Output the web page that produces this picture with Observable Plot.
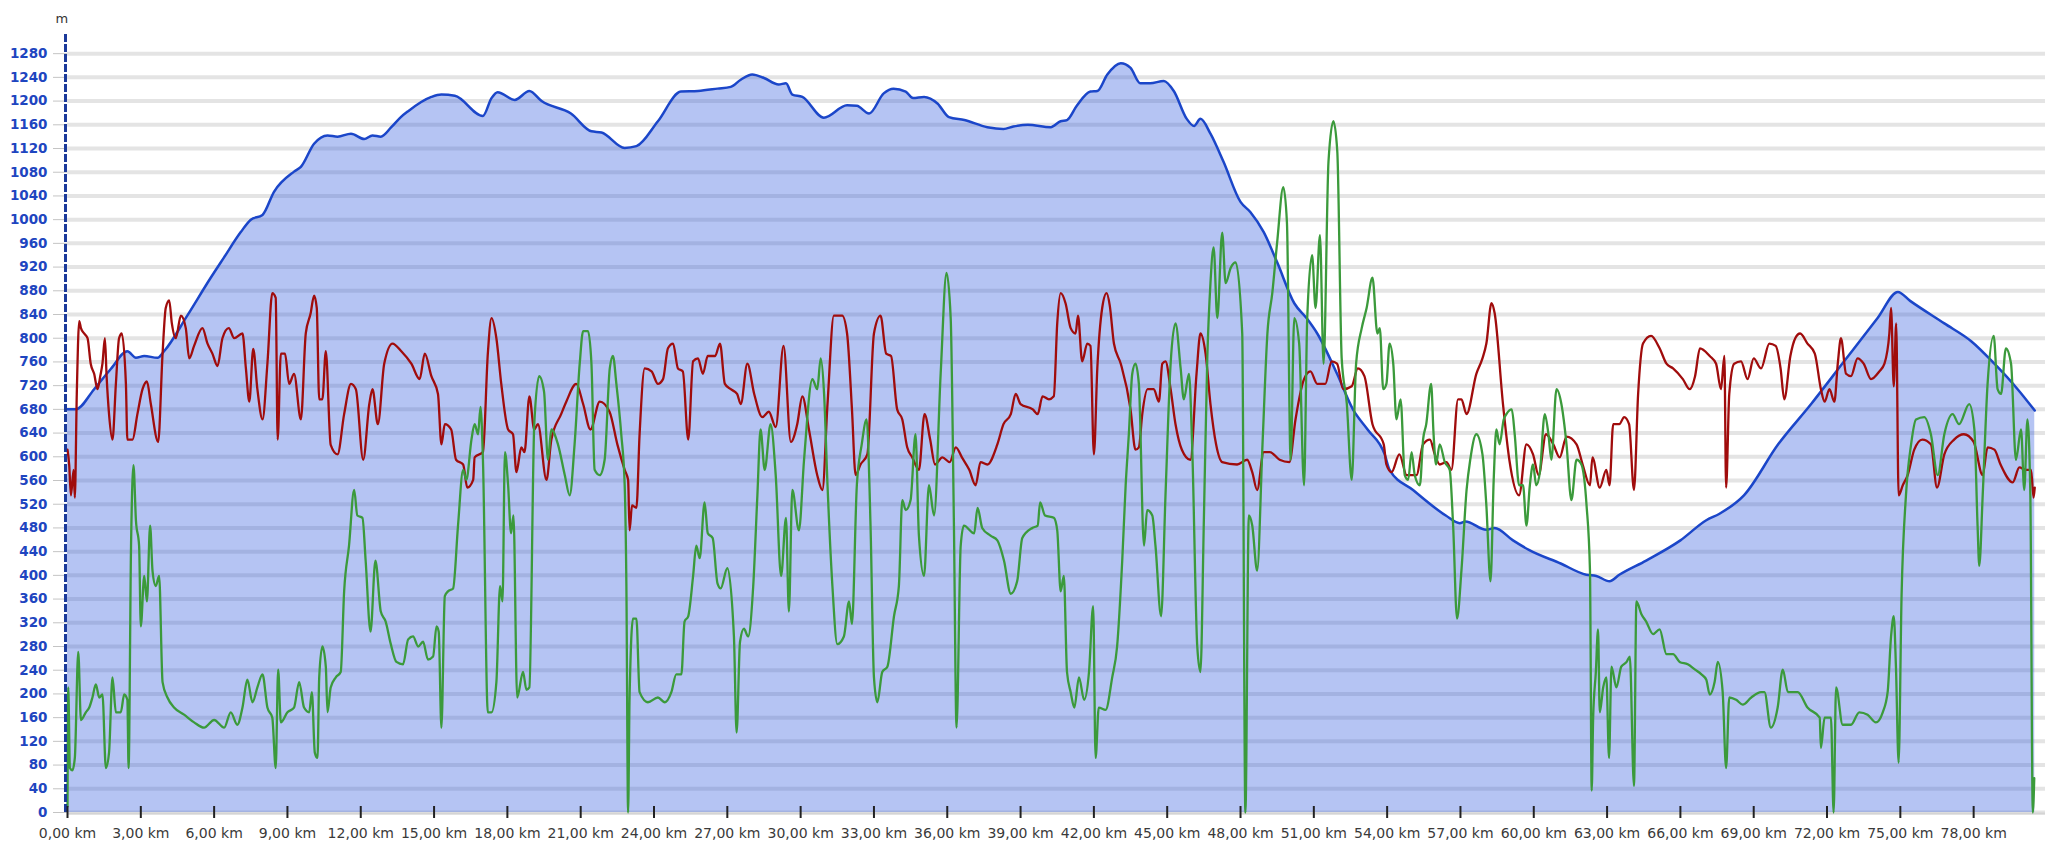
<!DOCTYPE html>
<html>
<head>
<meta charset="utf-8">
<script src="https://cdn.jsdelivr.net/npm/d3@7"></script>
<script src="https://cdn.jsdelivr.net/npm/@observablehq/plot@0.6"></script>
<style>
  html, body { margin: 0; padding: 0; background: #ffffff; }
  #chart { width: 2047px; height: 848px; }
</style>
</head>
<body>
<div id="chart"></div>
<script>
// ---- Data ----
const xTicks = [0, 3, 6, 9, 12, 15, 18, 21, 24, 27, 30, 33, 36, 39, 42, 45, 48, 51, 54, 57, 60, 63, 66, 69, 72, 75, 78];
const yTicks = [0, 40, 80, 120, 160, 200, 240, 280, 320, 360, 400, 440, 480, 520, 560, 600, 640, 680, 720, 760, 800, 840, 880, 920, 960, 1000, 1040, 1080, 1120, 1160, 1200, 1240, 1280];

const elevKm = [0,0.34,1.09,1.77,2.45,2.8,3.14,3.68,3.95,4.9,5.86,6.4,7.09,7.5,7.98,8.45,9.27,9.55,10.09,10.64,11.05,11.6,12.14,12.48,12.82,13.25,13.64,13.94,14.89,15.3,15.85,17.0,17.35,17.6,18.3,18.9,19.4,20.6,21.44,21.85,22.8,23.28,24.16,25.1,25.8,26.6,27.14,27.55,28.02,28.5,29.1,29.4,29.66,30.07,30.95,31.9,32.3,32.8,33.4,33.8,34.3,34.6,35.05,35.6,36.07,36.7,37.64,38.3,38.7,39.3,40.23,40.64,40.9,41.3,41.86,42.14,42.55,43.1,43.5,43.9,44.3,44.86,45.27,45.8,46.1,46.36,46.77,47.3,48.0,48.4,48.95,49.5,50.2,50.7,51.14,51.95,52.6,53.2,53.9,54.1,55.06,56.4,56.97,57.2,58.06,58.4,59.15,59.8,61.1,62.15,62.56,63.1,63.5,64.6,66.0,67.06,67.6,68.6,70.0,71.35,72.7,74.07,74.9,75.4,76.8,77.9,78.85,79.8,80.5];
const elevM = [680,680,714,748,778,767,770,767,778,838,902,936,979,1000,1008,1047,1081,1089,1128,1142,1140,1145,1136,1142,1140,1156,1173,1183,1207,1211,1209,1175,1205,1215,1202,1217,1200,1179,1149,1147,1121,1124,1166,1216,1217,1221,1224,1236,1245,1239,1228,1230,1211,1207,1172,1193,1192,1179,1213,1221,1216,1205,1207,1196,1173,1168,1156,1153,1157,1160,1156,1166,1168,1192,1216,1217,1245,1264,1256,1230,1230,1234,1217,1170,1158,1170,1145,1098,1030,1013,979,928,859,834,808,740,680,646,604,578,544,501,488,491,477,480,459,443,420,401,399,390,401,425,459,493,504,535,621,689,761,834,878,863,825,795,757,714,678];

const redKm = [0,0.07,0.14,0.25,0.3,0.38,0.48,0.55,0.68,0.82,0.95,1.09,1.23,1.34,1.43,1.53,1.6,1.7,1.84,1.98,2.11,2.22,2.39,2.45,2.66,2.86,3.07,3.25,3.41,3.71,3.89,4.02,4.16,4.27,4.43,4.64,4.84,4.98,5.18,5.52,5.73,5.93,6.14,6.34,6.6,6.82,7.16,7.3,7.44,7.6,7.77,7.98,8.18,8.38,8.52,8.6,8.73,8.9,9.07,9.27,9.55,9.75,9.95,10.09,10.2,10.3,10.43,10.57,10.77,11.05,11.32,11.6,11.8,12.1,12.35,12.48,12.7,12.96,13.3,
13.66,14.07,14.41,14.62,14.89,15.16,15.3,15.44,15.7,15.9,16.19,16.36,16.6,16.66,17.0,17.2,17.35,17.55,17.75,18.03,18.23,18.37,18.57,18.7,18.9,19.1,19.25,19.6,19.8,20.2,20.41,20.82,21.1,21.4,21.78,22.18,22.5,22.8,22.94,23.0,23.1,23.28,23.41,23.62,23.9,24.16,24.37,24.57,24.78,24.98,25.18,25.4,25.6,25.8,26.0,26.2,26.5,26.7,26.9,
27.14,27.4,27.55,27.82,28.1,28.43,28.7,28.98,29.3,29.6,29.86,30.07,30.34,30.68,30.89,31.1,31.36,31.7,31.9,32.1,32.25,32.45,32.73,33.0,33.27,33.5,33.7,33.95,34.16,34.36,34.57,34.84,35.07,35.3,35.5,35.8,36.1,36.35,36.6,36.9,37.16,37.36,37.64,38.05,38.3,38.6,38.8,39.0,39.5,39.7,39.9,40.16,40.36,
40.5,40.64,40.84,41.05,41.25,41.35,41.52,41.73,41.86,42.0,42.14,42.34,42.52,42.65,42.82,43.1,43.5,43.7,43.84,43.98,44.2,44.45,44.66,44.8,44.93,45.14,45.34,45.6,45.95,46.2,46.36,46.57,46.77,47.0,47.25,47.86,48.27,48.48,48.68,48.95,49.2,49.6,50.0,50.25,50.6,50.86,51.14,51.47,51.73,51.95,52.2,52.55,52.8,53.07,53.4,53.86,
53.97,54.18,54.5,54.8,55.2,55.47,55.75,55.95,56.15,56.43,56.63,56.9,57.04,57.25,57.65,57.9,58.06,58.27,58.4,58.74,59.0,59.4,59.7,59.97,60.2,60.5,60.8,61.06,61.34,61.75,62.0,62.3,62.4,62.7,62.97,63.1,63.25,63.5,63.7,63.9,64.1,64.27,64.47,64.8,65.15,65.43,65.7,66.1,66.38,66.6,66.8,67.2,
67.46,67.66,67.8,67.87,68.0,68.2,68.48,68.75,69.0,69.3,69.64,69.9,70.1,70.25,70.5,70.7,70.9,71.2,71.5,71.75,71.9,72.1,72.3,72.44,72.57,72.78,72.98,73.25,73.5,73.8,74.14,74.35,74.55,74.62,74.73,74.83,74.93,75.1,75.3,75.57,75.9,76.25,76.5,76.8,77.2,77.6,78.0,78.37,78.57,78.85,79.1,79.6,79.87,80.14,80.35,80.45,80.5];
const redVal = [612,586,535,578,531,706,829,817,808,800,757,740,714,736,757,800,736,672,629,723,800,808,723,629,629,672,714,727,689,625,774,851,864,825,800,838,817,766,787,817,791,774,753,800,817,800,808,749,693,782,714,663,757,876,868,629,774,774,723,740,663,808,842,872,851,697,697,778,620,604,672,723,714,595,689,714,655,757,791,
778,757,731,774,736,706,621,655,646,595,587,548,561,599,608,774,834,800,723,646,638,574,616,608,702,646,655,561,629,672,693,723,689,646,693,676,621,578,561,476,518,514,638,749,744,723,731,783,791,749,744,629,761,766,740,770,770,791,723,
714,706,689,757,706,667,676,650,787,625,655,702,646,569,544,689,838,838,808,680,569,587,604,808,838,774,770,680,663,616,599,578,672,629,587,599,591,616,599,578,552,591,587,621,655,672,706,689,680,672,702,697,702,
825,876,859,817,808,838,761,791,787,604,749,851,876,855,791,757,680,612,616,672,714,714,693,757,761,714,655,612,595,740,808,774,689,621,591,587,595,574,544,608,608,595,591,663,731,744,723,723,761,757,714,719,749,736,655,621,
587,574,604,569,569,621,629,604,587,591,578,697,697,672,740,766,791,859,842,689,595,535,621,604,569,638,621,599,634,621,587,552,599,548,578,552,655,655,667,655,544,706,791,804,783,757,749,731,714,736,783,770,
757,714,770,548,706,757,761,731,766,749,791,787,749,697,770,800,808,791,774,714,693,714,693,757,800,740,736,766,757,731,744,757,808,851,719,825,535,552,569,612,629,621,548,604,629,638,625,569,616,612,587,557,582,578,578,531,548];

const greenKm = [0,0.03,0.1,0.2,0.3,0.44,0.55,0.75,0.89,1.02,1.16,1.3,1.43,1.57,1.7,1.84,1.98,2.18,2.32,2.45,2.5,2.6,2.7,2.8,2.93,3.0,3.14,3.25,3.38,3.48,3.61,3.75,3.89,4.09,4.36,4.77,5.18,5.59,6.0,6.41,6.68,6.95,7.16,7.36,7.57,7.77,7.98,8.18,8.38,8.52,8.62,8.73,9.0,9.27,9.48,9.68,9.89,10.0,10.12,10.23,10.3,10.43,10.57,10.64,10.77,10.98,11.18,11.32,11.52,11.73,11.86,12.07,12.2,12.4,12.6,12.82,13.02,13.23,
13.46,13.73,13.94,14.14,14.35,14.55,14.75,14.96,15.1,15.19,15.3,15.44,15.57,15.78,15.98,16.19,16.32,16.53,16.66,16.8,16.9,17.0,17.2,17.35,17.55,17.7,17.8,17.9,18.03,18.15,18.25,18.4,18.64,18.78,18.9,19.1,19.3,19.5,19.66,19.8,20.07,20.35,20.55,20.75,20.96,21.1,21.3,21.44,21.57,21.78,21.98,22.19,22.32,22.46,22.66,22.8,22.87,22.94,23.0,23.14,23.28,23.41,23.75,24.16,24.44,24.71,24.91,25.12,25.25,25.4,25.6,25.73,25.87,26.07,26.2,26.4,26.6,
26.73,27.0,27.27,27.38,27.52,27.68,27.85,28.06,28.23,28.36,28.53,28.77,28.98,29.2,29.4,29.52,29.66,29.93,30.14,30.48,30.68,30.82,30.96,31.1,31.3,31.5,31.77,31.98,32.1,32.3,32.5,32.7,32.86,33.0,33.14,33.34,33.55,33.82,34.02,34.16,34.3,34.5,34.7,34.84,35.05,35.25,35.46,35.73,35.97,36.14,36.27,36.38,36.55,36.68,37.1,37.24,37.43,37.77,38.05,38.32,38.6,38.86,39.07,39.48,39.7,39.8,40.0,40.36,
40.5,40.64,40.77,40.9,41.05,41.2,41.39,41.6,41.8,41.97,42.07,42.2,42.48,42.75,42.95,43.16,43.3,43.43,43.57,43.7,43.84,44.05,44.18,44.39,44.52,44.75,44.93,45.14,45.34,45.55,45.68,45.89,46.02,46.23,46.36,46.5,46.64,46.77,46.9,47.05,47.25,47.39,47.6,47.8,48.07,48.2,48.34,48.48,48.68,48.9,49.1,49.3,49.5,49.75,49.9,50.05,50.2,50.4,50.6,50.73,50.93,51.07,51.25,51.4,51.6,51.8,51.96,52.14,52.35,52.55,52.73,52.96,53.16,53.4,53.6,53.7,53.84,
53.97,54.1,54.25,54.38,54.55,54.72,54.86,55.0,55.13,55.34,55.47,55.6,55.8,55.9,56.0,56.15,56.36,56.56,56.7,56.86,57.04,57.25,57.4,57.65,57.9,58.06,58.23,58.36,58.47,58.6,58.77,58.88,59.1,59.22,59.4,59.56,59.7,59.84,59.97,60.1,60.25,60.45,60.6,60.72,60.93,61.13,61.34,61.54,61.75,61.95,62.16,62.3,62.37,62.43,62.54,62.63,62.7,62.84,62.97,63.08,63.18,63.38,63.58,63.8,63.93,64.1,64.2,64.4,64.6,64.88,65.15,65.43,65.7,65.97,66.3,66.6,66.86,67.06,67.2,67.4,
67.53,67.73,67.87,68.0,68.28,68.55,68.9,69.3,69.44,69.7,69.98,70.19,70.4,70.8,71.2,71.7,71.75,71.9,72.16,72.27,72.37,72.64,72.98,73.32,73.66,74.0,74.28,74.48,74.62,74.73,74.82,74.93,75.05,75.23,75.44,75.64,75.98,76.25,76.53,76.8,77.14,77.4,77.82,78.03,78.16,78.23,78.37,78.57,78.82,78.98,79.12,79.32,79.53,79.73,79.94,80.07,80.2,80.32,80.42,80.48];
const greenVal = [10,211,75,71,92,271,156,169,177,194,216,194,199,75,101,228,169,169,199,190,75,450,586,493,450,314,399,356,484,407,382,399,220,194,177,165,152,143,156,143,169,148,177,224,186,211,233,177,160,75,241,152,169,177,220,177,169,203,101,92,228,280,246,169,211,228,237,373,450,544,501,497,425,305,425,339,322,284,
254,250,292,297,280,288,258,263,314,305,143,365,373,378,484,578,561,629,655,638,684,595,169,169,220,382,356,608,552,471,501,194,237,207,211,655,736,710,595,646,621,569,535,621,757,812,812,757,578,569,595,749,770,723,638,552,382,0,194,327,327,203,186,194,186,203,233,233,322,331,399,450,429,523,471,463,386,
378,412,297,135,288,310,297,382,535,646,578,655,569,399,497,339,544,476,595,731,714,766,706,552,382,284,297,356,318,552,621,663,484,228,186,237,246,331,382,527,510,527,638,467,399,552,501,740,910,834,493,143,450,484,471,514,480,467,459,425,369,390,463,480,484,523,501,497,
476,373,399,237,203,177,228,190,237,348,92,177,173,228,280,425,552,638,740,757,723,450,510,501,450,331,535,757,825,749,697,740,621,280,237,493,766,893,953,834,978,893,919,928,808,0,501,484,408,621,808,876,962,1055,995,595,834,791,552,834,940,851,974,757,1098,1166,1115,766,689,561,757,817,851,902,808,817,714,
723,791,757,663,697,569,561,608,569,552,629,655,723,638,587,621,591,578,484,327,408,544,595,638,604,518,390,561,646,621,663,672,680,638,552,552,484,552,587,552,574,672,638,595,714,689,621,527,595,587,518,408,37,160,237,309,169,211,228,92,246,211,246,254,263,45,356,335,322,301,309,267,267,254,250,241,233,224,199,220,
254,203,75,194,190,182,194,203,203,143,177,241,203,203,177,160,109,160,160,0,211,148,148,169,165,152,169,203,297,331,246,84,365,535,621,663,667,638,569,638,672,655,689,646,484,416,535,723,804,714,706,783,757,595,646,544,663,535,0,58];

// ---- Build tables for the library ----
const elev = elevKm.map((k, i) => ({km: k, v: elevM[i]}));
const red = redKm.map((k, i) => ({km: k, v: redVal[i]}));
const green = greenKm.map((k, i) => ({km: k, v: greenVal[i]}));

const kmFmt = d => d.toFixed(2).replace(".", ",") + " km";

const chart = Plot.plot({
  width: 2047,
  height: 848,
  marginLeft: 67,
  marginRight: 2,
  marginTop: 33,
  marginBottom: 36,
  style: {background: "#ffffff", fontFamily: "'DejaVu Sans', Verdana, sans-serif"},
  x: {domain: [0, 80.94], axis: null},
  y: {domain: [0, 1314], axis: null},
  marks: [
    Plot.ruleY(yTicks, {stroke: "#e4e4e4", strokeWidth: 4}),
    Plot.areaY(elev, {x: "km", y: "v", fill: "#2a55dd", fillOpacity: 0.35, curve: "monotone-x"}),
    Plot.ruleY([0], {stroke: "#d4d4d4", strokeWidth: 2, dy: 1}),
    Plot.line(elev, {x: "km", y: "v", stroke: "#1b46c9", strokeWidth: 2.5, curve: "monotone-x"}),
    Plot.line(red, {x: "km", y: "v", stroke: "#a00c0c", strokeWidth: 2.3, strokeLinejoin: "round", curve: "monotone-x"}),
    Plot.line(green, {x: "km", y: "v", stroke: "#3b9a3b", strokeWidth: 2.3, strokeLinejoin: "round", curve: "monotone-x"}),
    Plot.axisY(yTicks, {tickSize: 14, tickPadding: 6, tickFormat: d => String(d), stroke: "#c4c4c4", fill: "#1e45c0", fontWeight: "bold", fontSize: 13.5, label: null}),
    Plot.ruleX([0], {y1: 0, y2: 1314, stroke: "#1b3a9a", strokeWidth: 3, strokeDasharray: "8,2", dx: -2}),
    Plot.axisX(xTicks, {tickSize: 12, dy: -6, tickFormat: () => "", stroke: "#222", strokeWidth: 2, label: null}),
    Plot.axisX(xTicks, {tickSize: 0, tickPadding: 16, tickFormat: kmFmt, fill: "#3a3a3a", fontSize: 14, label: null}),
    Plot.text(["m"], {frameAnchor: "top-left", dx: -12, dy: -20, fill: "#333333", fontSize: 13})
  ]
});
document.getElementById("chart").appendChild(chart);
</script>
</body>
</html>
